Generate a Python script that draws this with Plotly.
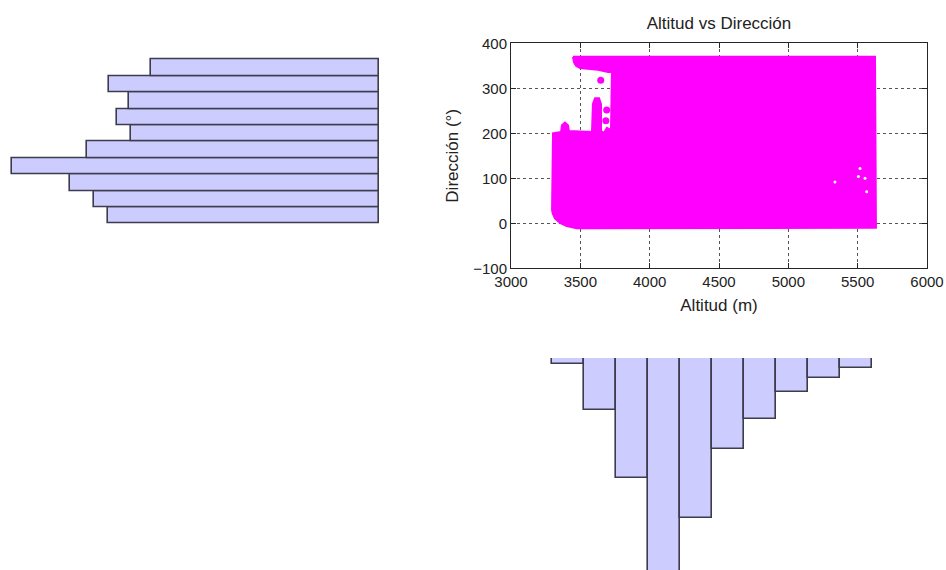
import plotly.graph_objects as go

# ---- data ----
# Scatter cloud outline (Altitud m, Dirección °) – outer envelope of the dense point cloud
cloud_alt = [3447, 5625, 5632, 3474, 3402, 3353, 3317, 3301, 3296, 3303,
             3361, 3368, 3389, 3411, 3418, 3584,
             3591, 3606, 3635, 3649, 3649, 3671, 3692, 3721, 3728,
             3700, 3627, 3498, 3469, 3454, 3447]
cloud_dir = [370, 370, -10, -11, -6, 1, 11, 22, 30, 200,
             203, 218, 224, 218, 205, 203,
             265, 278, 278, 265, 205, 201, 212, 207, 336,
             336, 341, 345, 350, 358, 370]
# isolated points
iso_alt = [3647, 3690, 3684]
iso_dir = [318, 252, 228]
# small gaps inside the cloud
gap_alt = [5517, 5553, 5565, 5336, 5505]
gap_dir = [122, 100, 70, 92, 104]

# Direction histogram (bins of ~36.5°)
dir_centers = [17.2, 53.7, 90.2, 126.7, 163.2, 199.7, 236.2, 272.7, 309.2, 345.7]
dir_counts = [271, 285, 309, 367, 292, 248, 262, 250, 270, 228]

# Altitude histogram
alt_centers = [3411, 3642, 3873, 4104, 4335, 4566, 4797, 5028, 5259, 5490]
alt_counts = [6, 52, 120, 240, 160, 91, 61, 34, 20, 10]

W, H = 946, 570
FONT = "Liberation Sans, Arial, sans-serif"
MAG = "#ff00ff"
BARFILL = "#ccccff"
BAREDGE = "#3c3c4c"

# domains (pixel-derived)
sx0, sx1 = 511 / W, 927 / W
sy0, sy1 = 1 - 268.3 / H, 1 - 43.3 / H

fig = go.Figure()

fig.add_trace(go.Scatter(x=cloud_alt, y=cloud_dir, mode="lines", fill="toself",
                         fillcolor=MAG, line=dict(color=MAG, width=2),
                         hoverinfo="skip", showlegend=False, xaxis="x", yaxis="y"))
fig.add_trace(go.Scatter(x=iso_alt, y=iso_dir, mode="markers",
                         marker=dict(color=MAG, size=7), showlegend=False,
                         xaxis="x", yaxis="y"))
fig.add_trace(go.Scatter(x=gap_alt, y=gap_dir, mode="markers",
                         marker=dict(color="white", size=3), showlegend=False,
                         xaxis="x", yaxis="y"))

fig.add_trace(go.Bar(x=dir_counts, y=dir_centers, orientation="h", width=36.5,
                     marker=dict(color=BARFILL, line=dict(color=BAREDGE, width=1.6)),
                     showlegend=False, xaxis="x2", yaxis="y2"))

fig.add_trace(go.Bar(x=alt_centers, y=alt_counts, width=231,
                     marker=dict(color=BARFILL, line=dict(color=BAREDGE, width=1.6)),
                     showlegend=False, xaxis="x3", yaxis="y3"))

axis_common = dict(showline=True, linecolor="#262626", linewidth=1, mirror="allticks",
                   ticks="inside", ticklen=5, tickcolor="#262626",
                   showgrid=True, gridcolor="#555555", griddash="dot", gridwidth=1,
                   zeroline=False, automargin=False,
                   tickfont=dict(family=FONT, size=15, color="#222"))

hidden = dict(visible=False, automargin=False)

fig.update_layout(
    template="none",
    width=W, height=H, autosize=False,
    margin=dict(l=0, r=0, t=0, b=0, pad=0),
    paper_bgcolor="white", plot_bgcolor="white",
    bargap=0,
    font=dict(family=FONT, color="#222"),
    title=dict(text="Altitud vs Dirección", x=719 / W, xanchor="center",
               y=1 - 23 / H, yanchor="middle", font=dict(family=FONT, size=17, color="#222")),
    xaxis=dict(domain=[sx0, sx1], range=[3000, 6000], tickvals=[3000, 3500, 4000, 4500, 5000, 5500, 6000],
               title=dict(text="Altitud (m)", font=dict(family=FONT, size=17), standoff=9),
               anchor="y", **axis_common),
    yaxis=dict(domain=[sy0, sy1], range=[-100, 400], tickvals=[-100, 0, 100, 200, 300, 400],
               title=dict(text="Dirección (°)", font=dict(family=FONT, size=17), standoff=10),
               anchor="x", **axis_common),
    xaxis2=dict(domain=[0, 379 / W], range=[379, 0], anchor="y2", **hidden),
    yaxis2=dict(domain=[sy0, sy1], range=[-100, 400], anchor="x2", **hidden),
    xaxis3=dict(domain=[sx0, sx1], range=[3000, 6000], anchor="y3", **hidden),
    yaxis3=dict(domain=[0, 1 - 358 / H], range=[212, 0], anchor="x3", **hidden),
)

fig.write_html("out.html", config={"displayModeBar": False},
               post_script="document.body.style.margin='0';document.body.style.overflow='hidden';")
